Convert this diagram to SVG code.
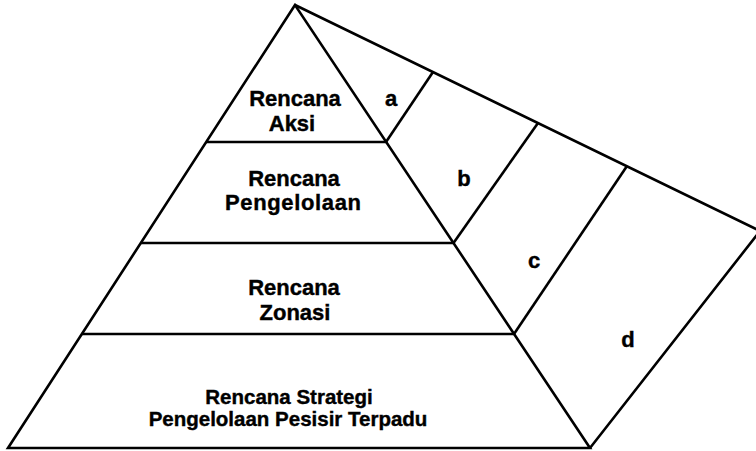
<svg xmlns="http://www.w3.org/2000/svg" width="756" height="451" viewBox="0 0 756 451">
<style>
.ln{fill:none;stroke:#000;stroke-width:2.6;stroke-linejoin:miter;stroke-linecap:butt}
.t{font-family:"Liberation Sans",Arial,sans-serif;font-weight:bold;font-size:22px;fill:#000;stroke:#000;stroke-width:0.4;text-anchor:middle}
.s{font-size:20.5px}
</style>
<rect width="756" height="451" fill="#fff"/>
<g id="pyramid">
<polygon class="ln" points="295,5 8,448 590,448"/>
<line class="ln" x1="206" y1="142" x2="386" y2="142"/>
<line class="ln" x1="141" y1="243" x2="453.5" y2="243"/>
<line class="ln" x1="82" y1="334" x2="514" y2="334"/>
</g>
<g id="side-band">
<polyline class="ln" points="295,5 760,231 590,448"/>
<line class="ln" x1="386" y1="142" x2="433" y2="72"/>
<line class="ln" x1="453.5" y1="243" x2="538" y2="123"/>
<line class="ln" x1="514" y1="334" x2="627" y2="166"/>
</g>
<g id="layer-aksi">
<text class="t" x="295" y="106">Rencana</text>
<text class="t" x="292" y="131">Aksi</text>
</g>
<g id="layer-pengelolaan">
<text class="t" x="294" y="186">Rencana</text>
<text class="t" x="293" y="210" textLength="136">Pengelolaan</text>
</g>
<g id="layer-zonasi">
<text class="t" x="294" y="295">Rencana</text>
<text class="t" x="295" y="320">Zonasi</text>
</g>
<g id="layer-strategi">
<text class="t s" x="289" y="404">Rencana Strategi</text>
<text class="t s" x="288" y="426">Pengelolaan Pesisir Terpadu</text>
</g>
<g id="label-a"><text class="t" x="391" y="106">a</text></g>
<g id="label-b"><text class="t" x="464" y="186">b</text></g>
<g id="label-c"><text class="t" x="534" y="268">c</text></g>
<g id="label-d"><text class="t" x="628" y="347">d</text></g>
</svg>
